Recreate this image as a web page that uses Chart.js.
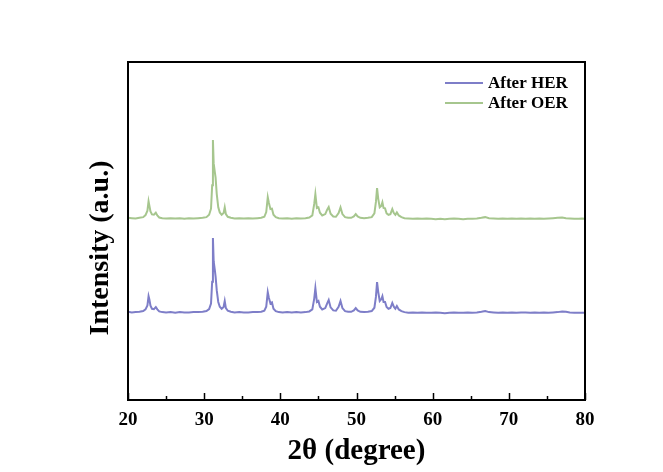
<!DOCTYPE html>
<html>
<head>
<meta charset="utf-8">
<script src="https://cdn.jsdelivr.net/npm/chart.js@4/dist/chart.umd.min.js"></script>
<style>
html,body{margin:0;padding:0;background:#fff;}
#wrap{width:663px;height:472px;position:relative;}
</style>
</head>
<body>
<div id="wrap"><canvas id="c" width="663" height="472"></canvas></div>
<script>
const twoTheta = [
20.0,20.5,21.0,21.5,22.0,22.3,22.55,22.7,22.8,22.95,
23.15,23.4,23.65,23.85,24.1,24.5,25.0,25.6,26.2,26.8,
27.4,28.0,28.6,29.2,29.8,30.3,30.65,30.9,31.05,31.15,
31.25,31.4,31.5,31.65,31.85,32.05,32.3,32.55,32.7,32.85,
33.1,33.5,34.0,34.6,35.2,35.8,36.4,37.0,37.5,37.9,
38.15,38.35,38.5,38.7,38.9,39.1,39.4,39.8,40.3,40.9,
41.5,42.1,42.7,43.3,43.8,44.2,44.45,44.6,44.8,45.0,
45.2,45.5,45.9,46.15,46.35,46.6,46.95,47.3,47.65,47.9,
48.15,48.5,48.9,49.3,49.65,49.9,50.15,50.5,51.0,51.5,
52.0,52.35,52.55,52.7,52.85,53.05,53.25,53.4,53.55,53.75,
53.95,54.2,54.45,54.7,54.9,55.1,55.3,55.55,55.9,56.3,
56.8,57.4,58.0,58.6,59.2,59.8,60.4,61.0,61.6,62.2,
62.8,63.4,64.0,64.6,65.2,65.8,66.4,66.9,67.4,68.0,
68.6,69.2,69.8,70.4,71.0,71.6,72.2,72.8,73.4,74.0,
74.6,75.2,75.8,76.4,77.0,77.5,78.0,78.6,79.2,79.6,
80.0
];
const afterHER = [
26.1,25.9,26.0,26.1,26.3,26.8,28.0,30.7,29.8,27.9,
27.0,26.9,27.5,26.8,26.2,26.0,25.9,26.0,25.8,26.0,
25.9,25.9,26.0,26.0,26.1,26.3,26.9,28.5,35.0,47.9,
41.0,38.4,36.5,32.5,29.0,27.6,27.0,27.5,29.3,27.2,
26.4,26.1,25.9,26.0,25.9,25.9,26.0,26.0,26.1,26.4,
27.6,31.9,30.2,28.6,28.9,27.0,26.3,26.0,25.9,26.0,
25.9,26.0,25.9,26.0,26.2,26.8,30.0,33.1,29.0,29.3,
27.6,26.8,27.2,28.6,29.6,27.4,26.5,26.4,27.6,29.3,
27.2,26.3,26.1,26.1,26.5,27.2,26.5,26.1,26.0,26.1,
26.3,27.3,30.5,34.9,32.0,29.3,29.8,30.7,29.0,29.0,
27.5,27.0,27.2,28.7,27.6,27.0,27.8,26.8,26.3,26.0,
25.8,25.9,25.8,25.9,25.8,25.8,25.9,25.8,25.7,25.8,
25.9,25.8,25.8,25.9,25.8,25.9,26.1,26.3,26.0,25.9,
25.8,25.9,25.8,25.9,25.8,25.9,25.9,25.8,25.9,25.8,
25.9,25.8,25.9,26.0,26.2,26.1,25.9,25.8,25.8,25.8,
25.8
];
const afterOER = [
53.9,53.8,53.7,53.9,54.1,54.7,56.0,58.8,57.6,55.8,
54.9,54.8,55.4,54.6,54.0,53.8,53.7,53.8,53.7,53.8,
53.6,53.8,53.7,53.8,53.9,54.1,54.8,56.6,63.5,76.9,
70.0,67.4,65.8,61.0,57.0,55.5,54.8,55.3,57.0,55.0,
54.2,53.9,53.7,53.8,53.7,53.8,53.7,53.8,53.9,54.2,
55.6,60.0,58.3,56.5,56.6,54.8,54.1,53.8,53.7,53.8,
53.6,53.8,53.7,53.8,54.0,54.6,58.0,60.9,56.8,57.0,
55.4,54.6,55.0,56.3,57.1,55.1,54.3,54.2,55.3,57.0,
55.0,54.1,53.9,53.9,54.3,55.0,54.3,53.9,53.8,53.9,
54.1,55.2,58.6,62.7,59.6,57.0,57.4,58.5,56.8,56.7,
55.2,54.8,55.0,56.5,55.3,54.8,55.5,54.6,54.1,53.8,
53.7,53.6,53.7,53.6,53.7,53.6,53.5,53.6,53.5,53.6,
53.7,53.6,53.5,53.6,53.6,53.7,53.9,54.1,53.8,53.7,
53.6,53.7,53.6,53.7,53.6,53.7,53.6,53.7,53.6,53.7,
53.6,53.7,53.8,53.9,54.0,53.8,53.7,53.6,53.6,53.7,
53.6
];
const seriesLabels = ['After HER', 'After OER'];
const xTickValues = [20, 30, 40, 50, 60, 70, 80];
const xTitle = '2θ (degree)';
const yTitle = 'Intensity (a.u.)';

const FONT = "'Liberation Serif', 'Times New Roman', serif";
const colHER = 'rgb(126,126,200)';
const colOER = 'rgb(166,198,142)';

const toXY = (ys) => twoTheta.map((x, i) => ({x: x, y: ys[i]}));

const framePlugin = {
  id: 'frame',
  afterDraw(chart) {
    const {ctx, chartArea: a, scales: {x}} = chart;
    ctx.save();
    ctx.strokeStyle = '#000';
    ctx.lineWidth = 2;
    ctx.strokeRect(a.left, a.top, a.right - a.left, a.bottom - a.top);
    // inward ticks on bottom axis
    ctx.lineWidth = 1.5;
    for (let v = 20; v <= 80; v += 5) {
      const px = Math.round(x.getPixelForValue(v)) + 0.5;
      const len = (v % 10 === 0) ? 7 : 4;
      ctx.beginPath();
      ctx.moveTo(px, a.bottom);
      ctx.lineTo(px, a.bottom - len);
      ctx.stroke();
    }
    // y axis title (rotated, slightly below plot centre as in the original)
    ctx.save();
    ctx.translate(101, 248);
    ctx.rotate(-Math.PI / 2);
    ctx.font = "bold 28px " + FONT;
    ctx.fillStyle = '#000';
    ctx.textAlign = 'center';
    ctx.textBaseline = 'middle';
    ctx.fillText(yTitle, 0, 0);
    ctx.restore();
    // legend
    const items = chart.data.datasets;
    ctx.font = "bold 17px " + FONT;
    ctx.textBaseline = 'middle';
    ctx.textAlign = 'left';
    items.forEach((ds, i) => {
      const y = 83 + i * 20;
      ctx.strokeStyle = ds.borderColor;
      ctx.lineWidth = 2;
      ctx.beginPath();
      ctx.moveTo(445, y);
      ctx.lineTo(483, y);
      ctx.stroke();
      ctx.fillStyle = '#000';
      ctx.fillText(ds.label, 488, y + 1);
    });
    ctx.restore();
  }
};

new Chart(document.getElementById('c'), {
  type: 'line',
  data: {
    datasets: [
      {label: seriesLabels[0], data: toXY(afterHER), borderColor: colHER, borderWidth: 2, pointRadius: 0, tension: 0, fill: false},
      {label: seriesLabels[1], data: toXY(afterOER), borderColor: colOER, borderWidth: 2, pointRadius: 0, tension: 0, fill: false}
    ]
  },
  options: {
    responsive: false,
    animation: false,
    layout: {padding: {top: 62, right: 78, left: 0, bottom: 0}},
    plugins: {legend: {display: false}, tooltip: {enabled: false}},
    scales: {
      x: {
        type: 'linear', min: 20, max: 80,
        grid: {display: false, drawTicks: false},
        border: {display: false},
        afterBuildTicks(s) { s.ticks = xTickValues.map(v => ({value: v})); },
        afterFit(s) { s.height = 72; },
        ticks: {color: '#000', padding: 9, maxRotation: 0, font: {family: FONT, size: 19, weight: 'bold'}},
        title: {display: true, text: xTitle, color: '#000', padding: {top: 0, bottom: 3}, font: {family: FONT, size: 29, weight: 'bold'}}
      },
      y: {
        min: 0, max: 100,
        grid: {display: false, drawTicks: false},
        border: {display: false},
        ticks: {display: false},
        afterFit(s) { s.width = 128; },
        title: {display: false}
      }
    }
  },
  plugins: [framePlugin]
});
</script>
</body>
</html>
